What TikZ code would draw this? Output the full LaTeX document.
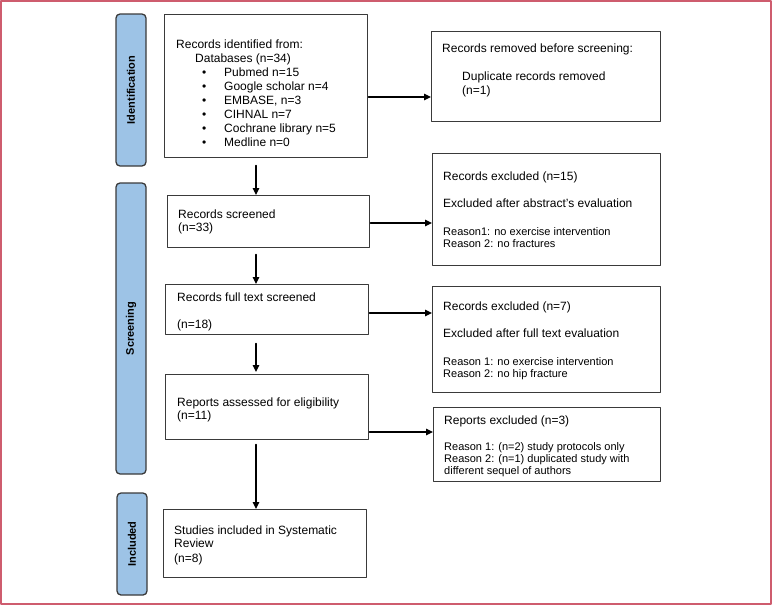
\documentclass[tikz,border=0pt]{standalone}
\usepackage{fontspec}
\setmainfont{Liberation Sans}
\usetikzlibrary{arrows.meta}
\definecolor{framered}{RGB}{206,92,110}
\definecolor{barblue}{RGB}{157,195,230}
\definecolor{boxgray}{RGB}{58,58,58}
\newcommand{\srcitem}[1]{\hspace*{26pt}\makebox[22pt][l]{\textbullet}#1}
\tikzset{
  stagebar/.style={draw=boxgray,fill=barblue,line width=1.3pt,rounded corners=4pt,
    rotate=90,font=\bfseries\fontsize{11}{13}\selectfont},
  flowbox/.style={draw=boxgray,line width=1.4pt,anchor=north west,inner sep=0pt},
  boxtext/.style={anchor=north west,inner sep=0pt,align=left,font=\fontsize{12}{14}\selectfont},
  smalltext/.style={anchor=north west,inner sep=0pt,align=left,font=\fontsize{11}{12}\selectfont},
  flowarrow/.style={->,line width=1.1pt},
}

\begin{document}
\begin{tikzpicture}[line cap=round,line join=round,>={Triangle[length=7pt,width=6.5pt]},x=1pt,y=-1pt]
				\useasboundingbox (0,0) rectangle (772,605);
				\draw [framered,line width=2pt] (1,1) rectangle (771,604);
				% stage bars
				\node[stagebar,minimum width=152pt,minimum height=30pt] (ident) at (131,90) {Identification};
				\node[stagebar,minimum width=291pt,minimum height=30pt] (screen) at (131,328.5) {Screening};
				\node[stagebar,minimum width=102pt,minimum height=30pt] (incl) at (132,544) {Included};
				% boxes
				\node[flowbox,minimum width=203pt,minimum height=143pt] (src) at (164,14) {};
				\node[flowbox,minimum width=229pt,minimum height=90pt] (removed) at (431,31) {};
				\node[flowbox,minimum width=202pt,minimum height=52pt] (screened) at (167,195) {};
				\node[flowbox,minimum width=228pt,minimum height=112pt] (exclA) at (432,153) {};
				\node[flowbox,minimum width=203pt,minimum height=50pt] (fulltext) at (165,284) {};
				\node[flowbox,minimum width=228pt,minimum height=106pt] (exclB) at (432,286) {};
				\node[flowbox,minimum width=203pt,minimum height=65pt] (reports) at (165,374) {};
				\node[flowbox,minimum width=227pt,minimum height=74pt] (repexcl) at (433,407) {};
				\node[flowbox,minimum width=203pt,minimum height=68pt] (studies) at (163,509) {};
				% texts
				\node[boxtext] (srctxt) at (176,39.5) {Records identified from:\\
					\hspace*{19pt}Databases (n=34)\\
					\srcitem{Pubmed n=15}\\
					\srcitem{Google scholar n=4}\\
					\srcitem{EMBASE, n=3}\\
					\srcitem{CIHNAL n=7}\\
					\srcitem{Cochrane library n=5}\\
					\srcitem{Medline n=0}};
				\node[boxtext] (removedtxt) at (442,43.7) {Records removed before screening:\\[14pt]
					\hspace*{20pt}Duplicate records removed\\
					\hspace*{20pt}(n=1)};
				\node[boxtext] (screenedtxt) at (178,209.7) {Records screened\\[-1pt](n=33)};
				\node[boxtext] (exclAtxt) at (443,171.7) {Records excluded (n=15)\\[13pt]Excluded after abstract's evaluation};
				\node[smalltext] (exclAwhy) at (443,227) {Reason1: no exercise intervention\\Reason 2: no fractures};
				\node[boxtext] (fulltexttxt) at (177,292.7) {Records full text screened\\[13pt](n=18)};
				\node[boxtext] (exclBtxt) at (443,301.7) {Records excluded (n=7)\\[13pt]Excluded after full text evaluation};
				\node[smalltext] (exclBwhy) at (443,357) {Reason 1: no exercise intervention\\Reason 2: no hip fracture};
				\node[boxtext] (reportstxt) at (177,397.7) {Reports assessed for eligibility\\[-1pt](n=11)};
				\node[boxtext] (repexcltxt) at (444,415.7) {Reports excluded (n=3)};
				\node[smalltext] (repexclwhy) at (444,442) {Reason 1: (n=2) study protocols only\\Reason 2: (n=1) duplicated study with\\different sequel of authors};
				\node[boxtext] (studiestxt) at (174,525.7) {Studies included in Systematic\\[-1pt]Review\\[1pt](n=8)};
				% arrows
				\coordinate (downcol) at (256,0);
				\coordinate (rowA) at (0,97);
				\coordinate (rowB) at (0,223);
				\coordinate (rowC) at (0,313);
				\coordinate (rowD) at (0,432);
				\draw [flowarrow] (src.east |- rowA) -- (removed.west |- rowA);
				\draw [flowarrow] (screened.east |- rowB) -- (exclA.west |- rowB);
				\draw [flowarrow] (fulltext.east |- rowC) -- (exclB.west |- rowC);
				\draw [flowarrow] (reports.east |- rowD) -- (repexcl.west |- rowD);
				\draw [flowarrow,shorten <=7pt] (src.south -| downcol) -- (screened.north -| downcol);
				\draw [flowarrow,shorten <=6pt] (screened.south -| downcol) -- (fulltext.north -| downcol);
				\draw [flowarrow,shorten <=8pt,shorten >=2pt] (fulltext.south -| downcol) -- (reports.north -| downcol);
				\draw [flowarrow,shorten <=4pt] (reports.south -| downcol) -- (studies.north -| downcol);
			\end{tikzpicture}
\end{document}
